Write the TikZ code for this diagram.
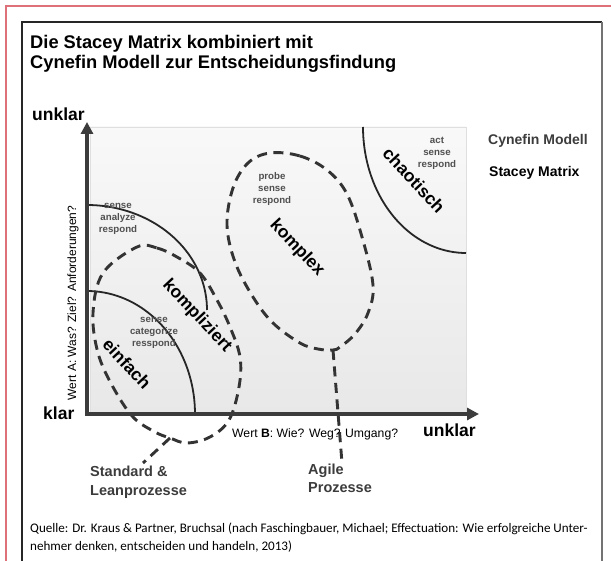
\documentclass[tikz,border=0pt]{standalone}
\usepackage{fontspec}
\setmainfont{Liberation Sans}
\newfontfamily\quellefont{Carlito}
\usetikzlibrary{
    arrows.meta,
    positioning
}
\definecolor{frame-red}{RGB}{222,112,122}
\definecolor{ink-gray}{RGB}{60,60,60}
\definecolor{step-gray}{RGB}{80,80,80}
\tikzset{
    axis/.style={
        line width=3.5pt,
        color=ink-gray,
        -{Triangle[width=12pt,length=12pt]}
    },
    domain-arc/.style={
        line width=1.8pt,
        color=black!85
    },
    process-loop/.style={
        line width=2.9pt,
        color=black!80,
        dash pattern=on 10pt off 6.5pt
    },
    heading/.style={
        font=\fontsize{18.3}{21}\selectfont\bfseries,
        anchor=base west,
        inner sep=0pt
    },
    axis-end/.style={
        font=\fontsize{17.5}{20}\selectfont\bfseries,
        anchor=base west,
        inner sep=0pt
    },
    domain-label/.style={
        font=\fontsize{17.5}{20}\selectfont\bfseries,
        rotate=-47,
        inner sep=0pt
    },
    steps/.style={
        font=\fontsize{9.7}{12}\selectfont\bfseries,
        text=step-gray,
        align=center,
        inner sep=0pt
    }
}

\begin{document}
\begin{tikzpicture}[
    x=1pt, y=-1pt,
    legend/.style={font=\fontsize{14}{16}\selectfont\bfseries, anchor=base west, inner sep=0pt},
    process/.style={font=\fontsize{14.5}{18}\selectfont\bfseries, text=ink-gray, anchor=base west, inner sep=0pt},
    source/.style={font=\quellefont\fontsize{13.1}{18}\selectfont, anchor=base west, inner sep=0pt}
    ]

    \useasboundingbox (0,0) rectangle (611,561);
    \fill[white] (0,0) rectangle (611,561);

    % frames
    \draw[frame-red, line width=2pt] (6,561) -- (6,6) -- (611,6);
    \draw[black!85, line width=1.5pt] (22,561) -- (22,22) -- (602,22);
    \draw[black!55, line width=1.5pt] (602,22) -- (602,561);

    \node[heading] (title-1) at (30,49) {Die Stacey Matrix kombiniert mit};
    \node[heading] (title-2) at (30,69) {Cynefin Modell zur Entscheidungsfindung};

    % matrix area
    \shade[top color=gray!5, bottom color=gray!18, draw=gray!25, line width=0.8pt] (90,127) rectangle (466,414);

    \coordinate (origin) at (87,414);
    \coordinate (y-tip) at (87,122);
    \coordinate (x-tip) at (479,414);

    % Cynefin domains
    \draw[domain-arc] plot[domain=-90:0, samples=40] ({87+120*cos(\x)}, {310+105*sin(\x)});
    \draw[domain-arc] plot[domain=-90:0, samples=40] ({87+108*cos(\x)}, {414+123*sin(\x)});
    \draw[domain-arc] plot[domain=180:90, samples=40] ({466+103*cos(\x)}, {127+126*sin(\x)});

    % Stacey processes
    \coordinate (lean-corner) at (170,438);
    \coordinate (lean-tip) at (143,463);
    \draw[process-loop] plot[smooth cycle, tension=0.6] coordinates {
        (137,247) (157,248) (177,257) (200,273) (217,300) (230,327) (240,357)
        (239,387) (229,420) (210,437) (187,443) (170,438) (155,432) (133,417)
        (113,387) (98,353) (93,313) (103,273)};
    \draw[process-loop] (lean-corner) -- (lean-tip);

    \coordinate (agile-corner) at (333,350);
    \coordinate (agile-tip) at (342,463);
    \draw[process-loop] plot[smooth cycle, tension=0.6] coordinates {
        (270,153) (300,156) (327,170) (347,194) (362,237) (373,285) (368,313)
        (355,334) (340,347) (333,350) (318,349) (300,343) (273,323) (253,297)
        (235,262) (227,225) (233,188) (248,163)};
    \draw[process-loop] (agile-corner) -- (agile-tip);

    \draw[axis] ([yshift=2pt]origin) -- (y-tip);
    \draw[axis] ([xshift=-2pt]origin) -- (x-tip);

    % domain labels
    \node[steps] (sar) at (118,219) {sense\\analyze\\respond};
    \node[steps] (scr) at (154,333) {sense\\categorize\\resspond};
    \node[steps] (psr) at (272,189) {probe\\sense\\respond};
    \node[steps] (asr) at (437,153) {act\\sense\\respond};

    \node[domain-label] (einfach) at (127,364) {einfach};
    \node[domain-label] (kompliziert) at (197,316) {kompliziert};
    \node[domain-label] (komplex) at (297,248) {komplex};
    \node[domain-label] (chaotisch) at (414,180) {chaotisch};

    % axes labels
    \node[axis-end] (y-unklar) at (32,121) {unklar};
    \node[axis-end] (y-klar) at (43,420) {klar};
    \node[axis-end] (x-unklar) at (423,437) {unklar};
    \node[font=\fontsize{12}{14}\selectfont, rotate=90, inner sep=0pt] (wert-a) at (73,303) {Wert A: Was? Ziel? Anforderungen?};
    \node[font=\fontsize{12.2}{14}\selectfont, anchor=base west, inner sep=0pt] (wert-b) at (232,438) {Wert \textbf{B}: Wie? Weg? Umgang?};

    % legend
    \node[legend, text=ink-gray] (cynefin) at (488,145) {Cynefin Modell};
    \node[legend] (stacey) at (489,177) {Stacey Matrix};

    \node[process] (standard) at (90,477) {Standard \&};
    \node[process] (lean) at (90,495) {Leanprozesse};
    \node[process] (agile) at (308,475) {Agile};
    \node[process] (agile-2) at (308,493) {Prozesse};

    \node[source] (quelle-1) at (30,532) {Quelle: Dr. Kraus \& Partner, Bruchsal (nach Faschingbauer, Michael; Effectuation: Wie erfolgreiche Unter-};
    \node[source] (quelle-2) at (30,550) {nehmer denken, entscheiden und handeln, 2013)};

\end{tikzpicture}
\end{document}
